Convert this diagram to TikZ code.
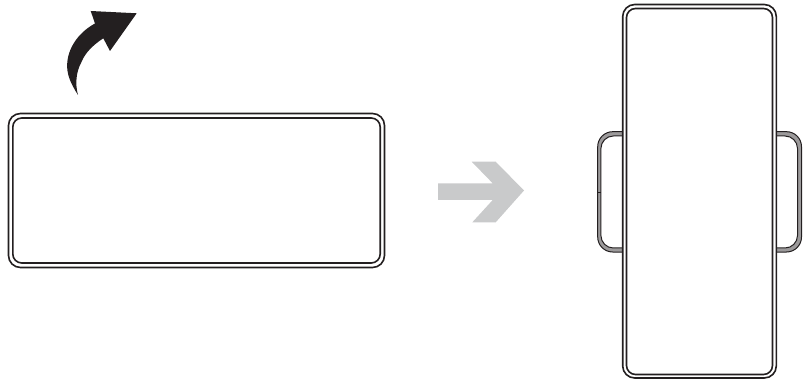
\documentclass[tikz,border=0pt]{standalone}
\definecolor{ink}{HTML}{231F20}
\definecolor{greyarrow}{HTML}{C9CACB}
\tikzset{
  phoneline/.style={draw=ink,line width=1.6pt},
  handleouter/.style={draw=ink,line width=1pt,fill=ink!45,rounded corners=15pt},
  handleinner/.style={draw=ink,line width=1pt,fill=white,rounded corners=12.5pt},
  handleseam/.style={draw=ink,line width=0.7pt},
  handlebutton/.style={draw=ink,line width=1.5pt}
}
\begin{document}
\begin{tikzpicture}[x=1pt,y=-1pt]
\useasboundingbox (0,0) rectangle (805,379);
% curved black arrow
\fill[ink] (78,95) .. controls (71,84) and (66,74) .. (67.3,62)
  .. controls (69,45) and (81,31) .. (95,23.5)
  -- (90.7,11) -- (136.7,13.3) -- (110,51) -- (103.3,38.3)
  .. controls (93,45) and (85,53) .. (81.5,62)
  .. controls (76,72) and (75,84) .. (78,95) -- cycle;
% grey arrow
\fill[greyarrow] (438,183.3) -- (492.7,183.3) -- (471.7,161.7) -- (495.7,161.7)
  -- (524,190.5) -- (495.7,222.3) -- (472.3,222.3) -- (492.7,200) -- (438,200) -- cycle;
% landscape phone
\draw[phoneline,rounded corners=12pt] (8.5,113.5) rectangle (384.5,267.5);
\draw[phoneline,rounded corners=9pt] (12.8,118) rectangle (380.2,263);
% side handles of the portrait phone
\draw[handleouter] (640,131.7) -- (597.7,131.7) -- (597.7,252) -- (640,252);
\draw[handleinner] (640,136) -- (600.9,136) -- (600.9,248) -- (640,248);
\draw[handleseam] (597.7,192) -- (600.9,192);
\draw[handleouter] (760,131.7) -- (801.5,131.7) -- (801.5,252) -- (760,252);
\draw[handleinner] (760,136) -- (797.5,136) -- (797.5,248) -- (760,248);
\draw[handlebutton] (801.5,205) -- (801.5,238);
% portrait phone
\draw[phoneline,fill=white,rounded corners=12pt] (622.7,4.5) rectangle (776.3,378);
\draw[phoneline,rounded corners=9pt] (626.5,8.5) rectangle (772.5,374.5);
\end{tikzpicture}
\end{document}
